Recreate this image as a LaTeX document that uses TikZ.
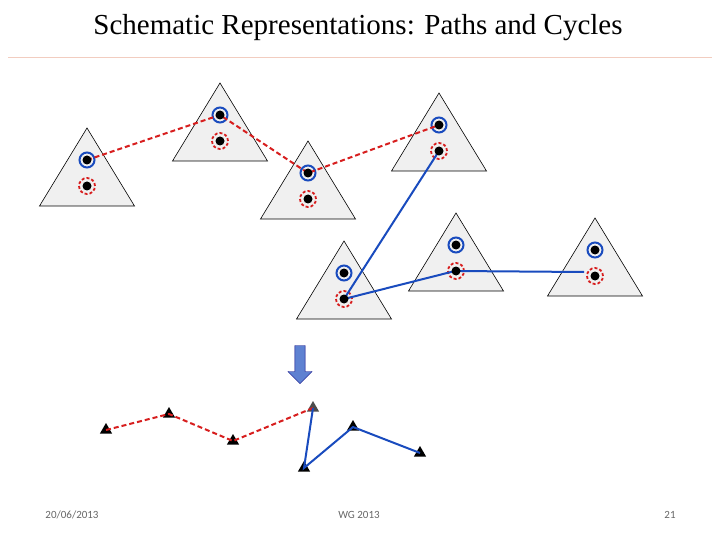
\documentclass[tikz,border=0pt]{standalone}
\usepackage{fontspec}
\setmainfont{Liberation Serif}
\newfontfamily\foot{Carlito}
\usetikzlibrary{shapes.arrows,shapes.geometric}
\definecolor{bl}{RGB}{25,75,190}
\definecolor{rd}{RGB}{215,30,30}
\begin{document}
\begin{tikzpicture}[x=1pt,y=-1pt,
 tri/.style={draw=black,fill=black!6,line width=0.6pt},
 bdot/.style={circle,fill=black,inner sep=0pt,minimum size=9pt},
 bring/.style={circle,draw=bl,line width=2pt,minimum size=15pt,inner sep=0pt},
 rring/.style={circle,draw=rd,dash pattern=on 3pt off 2pt,line width=1.8pt,minimum size=16pt,inner sep=0pt},
 redl/.style={draw=rd,line width=2pt,dash pattern=on 5pt off 3pt},
 bluel/.style={draw=bl,line width=2pt},
 st/.style={regular polygon,regular polygon sides=3,fill=black,inner sep=0pt,minimum size=14pt},
 ft/.style={font=\foot\fontsize{11}{13}\selectfont,text=black!60}]
\useasboundingbox (0,0) rectangle (720,540);
\node (title) at (358,28) {\fontsize{29}{34}\selectfont Schematic Representations: Paths and Cycles};
\coordinate (l1) at (8,57); \coordinate (l2) at (712,57);
\draw[red!30!brown!30,line width=0.8pt] (l1) -- (l2);
\foreach \n/\x/\y in {1/87/128,2/220/83,3/308/141,4/439/93,5/456/213,6/595/218,7/344/241}{
 \draw[tri] (\x,\y) -- (\x-47.5,\y+78) -- (\x+47.5,\y+78) -- cycle;
}
\foreach \n/\x/\y in {1/87/128,2/220/83,3/308/141,4/439/93,5/456/213,6/595/218,7/344/241}{
 \node[bring] (b\n) at (\x,\y+32) {};
 \node[rring] (r\n) at (\x,\y+58) {};
}
\coordinate (e6) at (584,272);
\draw[redl] (87,160) -- (220,115) -- (308,173) -- (439,125);
\draw[bluel] (439,151) -- (344,299) -- (455,271) -- (e6);
\foreach \n/\x/\y in {1/87/128,2/220/83,3/308/141,4/439/93,5/456/213,6/595/218,7/344/241}{
 \node[bdot] (bd\n) at (\x,\y+32) {};
 \node[bdot] (rd\n) at (\x,\y+58) {};
}
\node[single arrow,shape border rotate=270,draw=blue!50!black,fill=bl!70!white,minimum width=24pt,single arrow head extend=3pt,minimum height=38pt,inner sep=2pt] (arr) at (300,362) {};
\node[st] (s1) at (106,430) {};
\node[st] (s2) at (169,414) {};
\node[st] (s3) at (233,441) {};
\node[st,fill=black!70] (s4) at (313,408) {};
\node[st] (s5) at (304,468) {};
\node[st] (s6) at (353,427) {};
\node[st] (s7) at (420,453) {};
\draw[redl] (s1.center) -- (s2.center) -- (s3.center) -- (s4.center);
\draw[bluel] (s4.center) -- (s5.center) -- (s6.center) -- (s7.center);
\node[ft] (f1) at (72,515) {20/06/2013};
\node[ft] (f2) at (359,515) {WG 2013};
\node[ft] (f3) at (670,515) {21};
\end{tikzpicture}
\end{document}
